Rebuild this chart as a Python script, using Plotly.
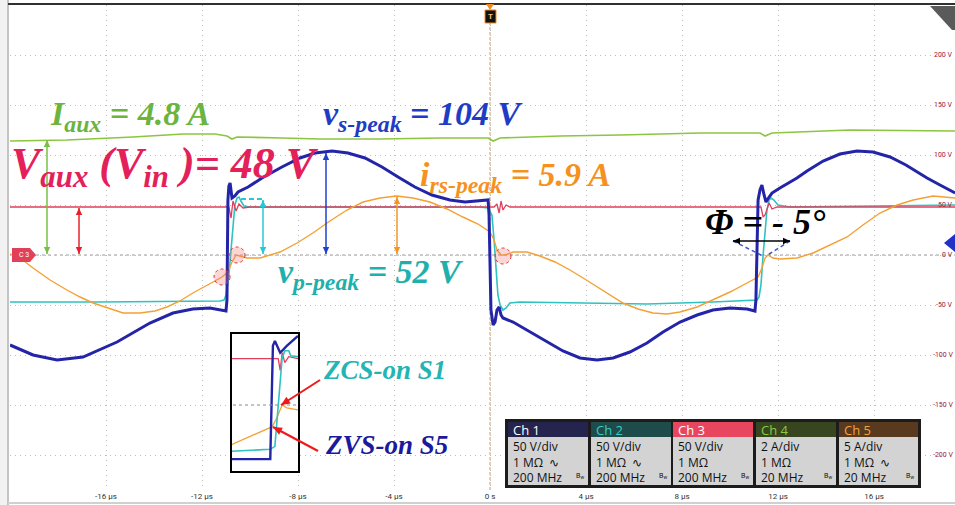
import math
import plotly.graph_objects as go

# ---------------- data ----------------
# time in µs; Ch1..Ch3 in volts, Ch4/Ch5 in amperes
ch1_t = [-20.0, -19.04, -18.04, -16.96, -15.54, -14.17, -13.21, -12.38, -11.67, -11.17, -11.0,
         -10.96, -10.92, -10.88, -10.83, -10.75, -10.63, -10.5, -10.08, -9.5, -8.67, -7.92, -7.29,
         -6.58, -5.92, -5.21, -4.5, -3.83, -3.13, -2.42, -1.67, -1.04, -0.33, -0.08,
         -0.04, 0.04, 0.13, 0.21, 0.29, 0.38, 0.46, 0.54, 0.96, 1.67, 2.38, 3.04, 3.75, 4.46,
         5.13, 5.83, 6.54, 7.21, 7.92, 8.63, 9.29, 10.0, 10.71, 11.04,
         11.08, 11.17, 11.25, 11.33, 11.42, 11.5, 11.63, 11.75, 12.08, 12.79, 13.21, 13.88,
         14.58, 15.29, 15.96, 16.67, 17.33, 18.21, 18.75, 19.38]
ch1_v = [-90, -100, -105, -102, -87, -68, -58, -54, -53, -55, -56,
         -45, 55, 69, 72, 57, 59, 63, 68, 77, 88, 97, 102,
         104, 102, 97, 88, 78, 68, 60, 55, 53, 54, 55,
         40, -55, -70, -67, -55, -52, -60, -63, -67, -77, -87, -96, -103, -105,
         -103, -97, -88, -77, -67, -60, -55, -53, -54, -56,
         -45, 55, 65, 70, 60, 53, 58, 62, 67, 77, 84, 94,
         101, 104, 103, 98, 90, 77, 70, 62]

ch2_t = [-20.0, -16.25, -11.25, -11.08, -11.0, -10.88, -10.79, -10.71, -10.63, -10.54, -10.46,
         -10.38, -10.25, -10.0, -3.75, -0.42, -0.08, 0.08, 0.17, 0.25, 0.33, 0.42, 0.54, 0.67,
         0.83, 1.25, 6.54, 9.29, 11.13, 11.21, 11.29, 11.38, 11.46, 11.54, 11.63, 11.71, 11.83,
         12.0, 12.5, 19.38]
ch2_v = [-47, -47, -46, -45, -40, -20, 5, 30, 50, 57, 58,
         54, 49, 48, 48, 48, 47, 40, 15, -15, -40, -50, -55, -53,
         -48, -47, -49, -47, -45, -42, -30, 0, 25, 45, 55, 57, 55,
         50, 48, 50]

ch3_t = [-20.0, -11.04, -10.88, -10.79, -10.71, -10.58, -10.46, -10.29, -10.0, 0.17, 0.29, 0.38,
         0.46, 0.54, 0.67, 0.83, 11.29, 11.38, 11.46, 11.63, 11.75, 11.96, 19.38]
ch3_v = [48, 48, 48, 37, 54, 44, 51, 47, 48, 48, 51, 42,
         54, 45, 50, 48, 48, 38, 40, 52, 46, 48, 48]

ch4_t = [-20.0, -17.63, -14.88, -12.79, -11.46, -10.96, -10.75, -10.54, -8.63, -7.08, -4.58,
         -2.08, -0.08, 0.13, 0.42, 2.92, 5.42, 8.75, 11.25, 11.46, 11.75, 15.0, 19.38]
ch4_a = [4.56, 4.6, 4.72, 4.84, 4.84, 4.76, 4.64, 4.72, 4.68, 4.64, 4.64,
         4.68, 4.68, 4.56, 4.68, 4.76, 4.8, 4.88, 4.88, 4.76, 4.88, 5.0, 4.96]

ch5_t = [-20.0, -19.58, -19.04, -18.33, -17.63, -17.08, -16.54, -15.83, -15.29, -14.58, -13.96,
         -13.46, -12.92, -12.38, -11.88, -11.54, -11.17, -10.92, -10.75, -10.58, -10.42, -10.13,
         -9.58, -8.75, -8.04, -7.38, -6.67, -5.96, -5.29, -4.58, -3.88, -3.21, -2.5, -1.79,
         -1.13, -0.5, 0.0, 0.17, 0.29, 0.46, 0.63, 0.96, 1.54, 2.08, 2.71, 3.33, 3.88, 4.46,
         5.0, 5.54, 6.17, 6.79, 7.38, 7.92, 8.63, 9.29, 10.0, 10.63, 11.17, 11.33, 11.46,
         11.58, 11.79, 12.08, 12.79, 13.46, 14.17, 14.88, 15.54, 16.25, 16.96, 17.63, 18.46,
         18.96, 19.38]
ch5_a = [0.1, -0.3, -1.3, -2.5, -3.5, -4.2, -4.8, -5.4, -5.8, -5.8, -5.6,
         -5.2, -4.6, -3.8, -3.1, -2.7, -2.2, -1.7, -0.7, 0.0, -0.1, -0.3,
         -0.3, 0.3, 1.2, 2.2, 3.4, 4.5, 5.3, 5.7, 5.9, 5.7, 5.3, 4.6,
         3.8, 3.1, 2.3, 1.5, 0.5, 0.0, 0.0, 0.3, 0.3, -0.1, -0.7, -1.5, -2.3, -3.2,
         -4.0, -4.8, -5.4, -5.8, -5.9, -5.7, -5.2, -4.5, -3.7, -2.9, -2.2, -1.3, -0.3,
         0.0, -0.3, -0.4, -0.3, 0.2, 1.0, 1.8, 3.0, 4.2, 5.0, 5.5, 5.9,
         5.8, 5.7]

# zoomed inset (1 µs window around the S1/S5 turn-on)
ins_t_red = [0.0, 0.70, 0.73, 0.76, 0.80, 0.86, 1.0]
ins_v_red = [47, 47, 35, 53, 43, 49, 47]
ins_t_blue = [0.0, 0.58, 0.62, 0.65, 0.73, 0.83, 1.0]
ins_v_blue = [-55, -55, 60, 65, 53, 60, 70]
ins_t_cyan = [0.0, 0.58, 0.65, 0.71, 0.76, 0.80, 0.86, 0.89, 1.0]
ins_v_cyan = [-47, -45, -42, 5, 48, 55, 55, 50, 49]
ins_t_orng = [0.0, 0.27, 0.5, 0.61, 0.68, 0.76, 0.83, 1.0]
ins_v_orng = [-40, -32, -25, -22, -13, 0, -3, -5]

time_ticks = [-16, -12, -8, -4, 0, 4, 8, 12, 16]
time_tick_text = ["-16 µs", "-12 µs", "-8 µs", "-4 µs", "0 s", "4 µs", "8 µs", "12 µs", "16 µs"]
volt_ticks = [200, 150, 100, 50, 0, -50, -100, -150, -200]

ch_names = ["Ch 1", "Ch 2", "Ch 3", "Ch 4", "Ch 5"]
ch_scale = ["50 V/div", "50 V/div", "50 V/div", "2 A/div", "5 A/div"]
ch_units_per_div = [50, 50, 50, 2, 5]
ch_imp = ["1 MΩ  ∿", "1 MΩ  ∿", "1 MΩ", "1 MΩ", "1 MΩ  ∿"]
ch_bw = ["200 MHz", "200 MHz", "200 MHz", "20 MHz", "20 MHz"]

# ---------------- styling ----------------
C1, C2, C3, C4, C5 = "#2424a8", "#2ec2c0", "#e23f5c", "#8cc540", "#f5a034"
hdr_bg = ["#24244e", "#1d4c4a", "#e8465f", "#384620", "#5a3a1e"]
hdr_fg = ["#ffffff", "#3ccac6", "#ffffff", "#8cc840", "#f2a23e"]
SERIF = "Liberation Serif"

L, R, T, B = 10, 955, 5, 490
def PX(x):
    return (x - L) / (R - L)
def PY(y):
    return (B - y) / (B - T)

GRID_PER_DIV = 50.0
def scaled(vals, upd):
    return [v * GRID_PER_DIV / upd for v in vals]

fig = go.Figure()
main = [(ch4_t, ch4_a, ch_units_per_div[3], C4, 1.6),
        (ch2_t, ch2_v, ch_units_per_div[1], C2, 1.6),
        (ch3_t, ch3_v, ch_units_per_div[2], C3, 1.3),
        (ch5_t, ch5_a, ch_units_per_div[4], C5, 1.4),
        (ch1_t, ch1_v, ch_units_per_div[0], C1, 3.0)]
for t, v, upd, col, w in main:
    fig.add_trace(go.Scatter(x=t, y=scaled(v, upd), mode="lines", line=dict(color=col, width=w),
                             hoverinfo="skip", showlegend=False))

for t, v, col, w in [(ins_t_red, ins_v_red, C3, 1.3), (ins_t_orng, ins_v_orng, C5, 1.3),
                     (ins_t_cyan, ins_v_cyan, C2, 1.6), (ins_t_blue, ins_v_blue, C1, 2.4)]:
    fig.add_trace(go.Scatter(x=t, y=v, mode="lines", line=dict(color=col, width=w),
                             xaxis="x2", yaxis="y2", hoverinfo="skip", showlegend=False))

shapes = []
def pline(x0, y0, x1, y1, color, w=1.0, dash=None, layer="above"):
    d = dict(type="line", xref="paper", yref="paper", x0=PX(x0), y0=PY(y0), x1=PX(x1), y1=PY(y1),
             line=dict(color=color, width=w), layer=layer)
    if dash:
        d["line"]["dash"] = dash
    shapes.append(d)

def ppoly(pts, fill, layer="above"):
    path = "M" + " L".join(f"{PX(x)},{PY(y)}" for x, y in pts) + " Z"
    shapes.append(dict(type="path", xref="paper", yref="paper", path=path, fillcolor=fill,
                       line=dict(width=0), layer=layer))

def head(hx, hy, tx, ty, color, hl=7.0, hw=3.2):
    dx, dy = hx - tx, hy - ty
    n = math.hypot(dx, dy)
    ux, uy = dx / n, dy / n
    bx, by = hx - ux * hl, hy - uy * hl
    ppoly([(hx, hy), (bx - uy * hw, by + ux * hw), (bx + uy * hw, by - ux * hw)], color)

def arrow(hx, hy, tx, ty, color, w=1.5, both=True, hl=7.0, hw=3.2):
    pline(hx, hy, tx, ty, color, w)
    head(hx, hy, tx, ty, color, hl, hw)
    if both:
        head(tx, ty, hx, hy, color, hl, hw)

# frame pieces
shapes.append(dict(type="rect", xref="paper", yref="paper", x0=PX(0), x1=PX(8), y0=PY(505), y1=PY(0),
                   fillcolor="#f2f2f2", line=dict(width=0), layer="above"))
pline(8, 505, 8, 0, "#c4c4c4", 2)
pline(8, 4, 955, 4, "#303030", 2)
pline(8, 503, 955, 503, "#d0d0d0", 2)
# zero line & trigger line
shapes.append(dict(type="line", xref="paper", yref="y", x0=PX(36), x1=PX(955), y0=0, y1=0,
                   line=dict(color="#9a9a9a", width=1, dash="3px,3px"), layer="between"))
shapes.append(dict(type="line", xref="x", yref="paper", x0=0, x1=0, y0=PY(490), y1=PY(22),
                   line=dict(color="#c89a6a", width=1, dash="3px,2px"), layer="between"))
# trigger marker
ppoly([(486, 4), (494, 4), (490, 10)], "#f08a1e")
shapes.append(dict(type="rect", xref="paper", yref="paper", x0=PX(485), x1=PX(496), y0=PY(23), y1=PY(10),
                   fillcolor="#111111", line=dict(color="#f08a1e", width=1)))
# corner icon
ppoly([(930, 6), (955, 6), (955, 30), (952, 30)], "#5a5a5a")
# C3 marker
ppoly([(12, 248), (30, 248), (36, 255), (30, 262), (12, 262)], "#e0405a")
# right-side ch1 marker
ppoly([(944, 243), (955, 234), (955, 252)], "#2030c8")
# ZVS/ZCS circles
for cx, cy in [(222, 277), (237, 255), (503, 256)]:
    shapes.append(dict(type="circle", xref="paper", yref="paper", x0=PX(cx - 8), x1=PX(cx + 8),
                       y0=PY(cy + 8), y1=PY(cy - 8), fillcolor="rgba(240,120,120,0.30)",
                       line=dict(color="#e03030", width=1, dash="dot")))
# cyan dashed bracket
shapes.append(dict(type="path", xref="paper", yref="paper",
                   path=f"M{PX(241)},{PY(199)} L{PX(263)},{PY(199)} L{PX(263)},{PY(206)}",
                   line=dict(color="#25c8d8", width=2, dash="5px,3px")))
# phi dashed guides
pline(733, 241, 763, 256, "#3a5ac0", 1.5, "4px,3px")
pline(790, 241, 766, 256, "#3a5ac0", 1.5, "4px,3px")
# inset background + frame + zero line
shapes.append(dict(type="rect", xref="paper", yref="paper", x0=PX(232), x1=PX(298), y0=PY(471), y1=PY(334),
                   fillcolor="white", line=dict(width=0), layer="between"))
pline(233, 405, 297, 405, "#8a8a8a", 1, "3px,3px")
shapes.append(dict(type="rect", xref="paper", yref="paper", x0=PX(231), x1=PX(299), y0=PY(472), y1=PY(333),
                   line=dict(color="#000000", width=2)))
# channel info panel
shapes.append(dict(type="rect", xref="paper", yref="paper", x0=PX(505), x1=PX(921), y0=PY(488), y1=PY(419),
                   fillcolor="#1c1c1c", line=dict(width=0)))
box_x = [(508, 588), (591, 671), (673, 753), (756, 836), (839, 918)]
for i, (x0, x1) in enumerate(box_x):
    shapes.append(dict(type="rect", xref="paper", yref="paper", x0=PX(x0), x1=PX(x1), y0=PY(485), y1=PY(437),
                       fillcolor="#d3d3d3", line=dict(width=0)))
    shapes.append(dict(type="rect", xref="paper", yref="paper", x0=PX(x0), x1=PX(x1), y0=PY(437), y1=PY(422),
                       fillcolor=hdr_bg[i], line=dict(width=0)))

# arrows
arrow(47, 140, 47, 254, "#78c043")
arrow(79, 208, 79, 254, "#e8202a")
arrow(263, 200, 263, 254, "#25c8d8")
arrow(326, 153, 326, 254, "#1e40d0")
arrow(397, 197, 397, 254, "#f7941d")
arrow(790, 241, 733, 241, "#000000", w=1.5)
arrow(281, 405, 320, 380, "#f01818", w=2, both=False, hl=9, hw=4)
arrow(273, 427, 318, 451, "#f01818", w=2, both=False, hl=9, hw=4)

ann = []
def txt(x, y, s, size, color, fam=SERIF, xa="left", ya="middle", align="left"):
    ann.append(dict(xref="paper", yref="paper", x=PX(x), y=PY(y), text=s, showarrow=False,
                    xanchor=xa, yanchor=ya, align=align, font=dict(family=fam, size=size, color=color)))

txt(48, 116, "<b><i>I<sub>aux</sub> = 4.8 A</i></b>", 34, "#6cb43e")
txt(321, 116, "<b><i>v<sub>s-peak</sub> = 104 V</i></b>", 34, "#1e3cc4")
txt(9, 166, "<b><i>V<sub>aux</sub> (V<sub>in</sub> )= 48 V</i></b>", 44, "#e4205a")
txt(418, 177, "<b><i>i<sub>rs-peak</sub> = 5.9 A</i></b>", 34, "#f5921e")
txt(276, 274, "<b><i>v<sub>p-peak</sub> = 52 V</i></b>", 34, "#1fb0ac")
txt(703, 222, "<b><i>Φ = - 5°</i></b>", 36, "#000000")
txt(321, 370, "<b><i>ZCS-on S1</i></b>", 27, "#24b4b4")
txt(323, 445, "<b><i>ZVS-on S5</i></b>", 27, "#1a1a9c")

# right axis labels
for v in volt_ticks:
    txt(955, 255 - v, f"{v} V", 7, "#a0203c", fam="Roboto", xa="right")
txt(24, 255, "C 3", 7, "#ffffff", fam="Roboto", xa="center")
txt(490.5, 16.5, "<b>T</b>", 8, "#f5c080", fam="Roboto", xa="center")

# channel panel text
for i, (x0, x1) in enumerate(box_x):
    txt(x0 + 3, 429.5, ch_names[i], 13, hdr_fg[i], fam="Open Sans")
    txt(x0 + 3, 462, f"{ch_scale[i]}<br>{ch_imp[i]}<br>{ch_bw[i]}", 12, "#111111", fam="Open Sans")
    txt(x1 - 2, 476, "B<sub>w</sub>", 7, "#111111", fam="Roboto", xa="right")

fig.update_layout(
    width=955, height=505,
    margin=dict(l=L, r=955 - R, t=T, b=505 - B),
    paper_bgcolor="white", plot_bgcolor="white", showlegend=False,
    xaxis=dict(range=[(L - 490) / 24.0, (R - 490) / 24.0], tickvals=time_ticks, ticktext=time_tick_text,
               showgrid=True, gridcolor="#bdbdbd", griddash="1px,4px", gridwidth=1, zeroline=False,
               showline=False, ticks="", tickfont=dict(family="Roboto", size=8, color="#333333")),
    yaxis=dict(range=[255 - B, 255 - T], tickvals=volt_ticks, showticklabels=False,
               showgrid=True, gridcolor="#bdbdbd", griddash="1px,4px", gridwidth=1, zeroline=False,
               showline=False, ticks=""),
    xaxis2=dict(domain=[PX(232), PX(298)], range=[0, 1], visible=False, anchor="y2"),
    yaxis2=dict(domain=[PY(471), PY(334)], range=[-67, 72], visible=False, anchor="x2"),
    shapes=shapes, annotations=ann,
)

fig.write_html("out.html", config={"displayModeBar": False},
               post_script="document.body.style.margin='0';")
